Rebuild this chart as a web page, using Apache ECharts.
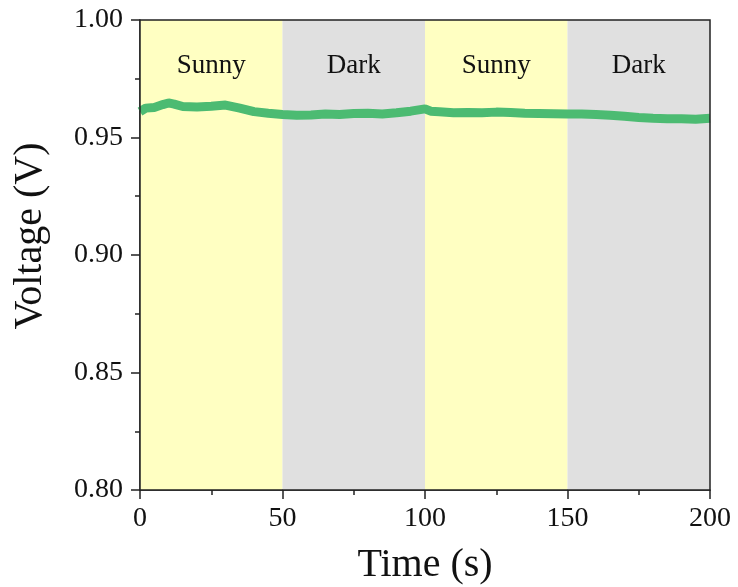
<!DOCTYPE html>
<html>
<head>
<meta charset="utf-8">
<script src="https://cdn.jsdelivr.net/npm/echarts@6/dist/echarts.min.js"></script>
<style>
html, body { margin: 0; padding: 0; background: #fff; }
#main { width: 738px; height: 587px; }
</style>
</head>
<body>
<div id="main"></div>
<script>
var times = [0, 2, 5, 8, 10, 12, 15, 20, 25, 30, 35, 40, 45, 50, 55, 60, 65, 70, 75, 80, 85, 90, 95, 100, 102, 105, 110, 115, 120, 125, 130, 135, 140, 145, 150, 155, 160, 165, 170, 175, 180, 185, 190, 195, 200];
var voltage = [0.9610, 0.9625, 0.9628, 0.9640, 0.9647, 0.9642, 0.9632, 0.9630, 0.9633, 0.9638, 0.9625, 0.9610, 0.9603, 0.9598, 0.9595, 0.9596, 0.9600, 0.9598, 0.9602, 0.9603, 0.9600, 0.9605, 0.9612, 0.9622, 0.9612, 0.9610, 0.9605, 0.9606, 0.9605, 0.9608, 0.9606, 0.9603, 0.9602, 0.9601, 0.9600, 0.9600, 0.9598, 0.9595, 0.9590, 0.9585, 0.9582, 0.9580, 0.9580, 0.9578, 0.9582];
var bands = [[0, 50, 'Sunny'], [50, 100, 'Dark'], [100, 150, 'Sunny'], [150, 200, 'Dark']];
var bandColors = { Sunny: '#ffffc2', Dark: '#e0e0e0' };

var font = 'Liberation Serif';
var myChart = echarts.init(document.getElementById('main'));

var option = {
    animation: false,
    grid: {
        left: 140,
        right: 28,
        top: 20,
        bottom: 97,
        outerBoundsMode: 'none',
        containLabel: false,
        show: true,
        borderColor: '#222',
        borderWidth: 1.5,
        z: 10
    },
    xAxis: {
        type: 'value',
        min: 0,
        max: 200,
        interval: 50,
        name: 'Time (s)',
        nameLocation: 'middle',
        nameGap: 55,
        nameTextStyle: { fontFamily: font, fontSize: 40, color: '#111' },
        axisLine: { onZero: false, lineStyle: { color: '#222', width: 1.5 } },
        axisTick: { inside: false, length: 9, lineStyle: { color: '#222', width: 1.5 } },
        minorTick: { show: true, splitNumber: 2, length: 5, lineStyle: { color: '#222', width: 1.5 } },
        axisLabel: { fontFamily: font, fontSize: 28, color: '#111', margin: 15 },
        splitLine: { show: false }
    },
    yAxis: {
        type: 'value',
        min: 0.8,
        max: 1.0,
        interval: 0.05,
        name: 'Voltage (V)',
        nameLocation: 'middle',
        nameGap: 90,
        nameTextStyle: { fontFamily: font, fontSize: 40, color: '#111', padding: [0, 0, 0, 38] },
        axisLine: { show: true, onZero: false, lineStyle: { color: '#222', width: 1.5 } },
        axisTick: { show: true, inside: false, length: 9, lineStyle: { color: '#222', width: 1.5 } },
        minorTick: { show: true, splitNumber: 2, length: 5, lineStyle: { color: '#222', width: 1.5 } },
        axisLabel: {
            fontFamily: font, fontSize: 28, color: '#111', margin: 17,
            formatter: function (v) { return v.toFixed(2); }
        },
        splitLine: { show: false }
    },
    series: [{
        type: 'line',
        data: times.map(function (t, i) { return [t, voltage[i]]; }),
        showSymbol: false,
        lineStyle: { color: '#4cbb72', width: 9 },
        itemStyle: { color: '#4cbb72' },
        z: 5,
        markArea: {
            silent: true,
            data: bands.map(function (b) {
                return [{
                    xAxis: b[0],
                    itemStyle: { color: bandColors[b[2]] },
                    name: b[2],
                    label: {
                        show: true,
                        position: 'insideTop',
                        distance: 32,
                        fontFamily: font,
                        fontSize: 27,
                        color: '#111'
                    }
                }, { xAxis: b[1] }];
            })
        }
    }]
};

myChart.setOption(option);
</script>
</body>
</html>
